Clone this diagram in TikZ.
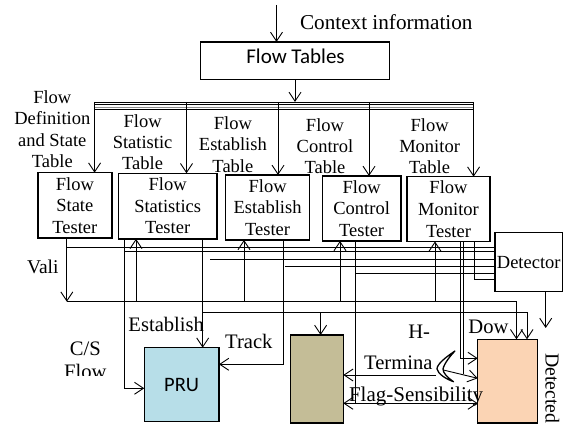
\documentclass[tikz,border=0pt]{standalone}
\usepackage{fontspec}
\setmainfont{Liberation Serif}
\newfontfamily\calfont{Carlito}
\usetikzlibrary{arrows.meta}
\definecolor{prublue}{HTML}{B7DEE8}
\definecolor{tanfill}{HTML}{C4BD97}
\definecolor{peach}{HTML}{FBD4B4}
\tikzset{
  box/.style={draw, line width=1.5pt, fill=white, inner sep=0pt, outer sep=0pt,
    align=center, font=\fontsize{18.5}{21.6}\selectfont},
  wire/.style={line width=0.9pt},
  arr/.style={wire, -{Straight Barb[length=9pt,width=12pt]}},
  biarr/.style={wire, {Straight Barb[length=9pt,width=12pt]}-{Straight Barb[length=9pt,width=12pt]}},
  lbl/.style={inner sep=0pt, align=center, anchor=north, font=\fontsize{18.5}{21.2}\selectfont},
  big/.style={inner sep=0pt, font=\fontsize{20.6}{23.4}\selectfont},
}
\begin{document}
\begin{tikzpicture}[x=1pt,y=-1pt]
\useasboundingbox (0,0) rectangle (566,427);

% generator and its input
\node[box, minimum width=188.8pt, minimum height=37.3pt] (tables) at (295.1,60.65) {};
\node[anchor=base, inner sep=0pt, font=\calfont\fontsize{21}{25}\selectfont] (tablestxt) at (295.5,64) {Flow Tables};
\node[anchor=base, inner sep=0pt, font=\fontsize{21.2}{25}\selectfont] (ctx) at (386.3,30) {Context information};
\draw[arr] (276.5,5) -- (276.5,0 |- tables.north);
\draw[arr] (295,0 |- tables.south) -- (295,102);

% table bus
\draw[line width=0.6pt] (95,102) -- (473.6,102);
\draw[line width=1.8pt] (95,104.6) -- (473.6,104.6);
\draw[line width=0.8pt, black!45] (95,107.2) -- (473.6,107.2);
\draw[line width=1pt] (95,109.3) -- (473.6,109.3);

% table labels
\node[lbl] (tdef) at (52.3,90.7) {Flow\\Definition\\and State\\Table};
\node[lbl] (tstat) at (142.6,114) {Flow\\Statistic\\Table};
\node[lbl] (test) at (232.9,116.7) {Flow\\Establish\\Table};
\node[lbl] (tctl) at (325,118.3) {Flow\\Control\\Table};
\node[lbl] (tmon) at (429.6,118.3) {Flow\\Monitor\\Table};

% testers
\node[box, minimum width=73.9pt, minimum height=65.5pt] (state) at (74.85,205.45) {Flow\\State\\Tester};
\node[box, minimum width=98.6pt, minimum height=65.5pt] (stats) at (167.7,206.05) {Flow\\Statistics\\Tester};
\node[box, minimum width=83.8pt, minimum height=65pt] (estab) at (267.6,207.5) {Flow\\Establish\\Tester};
\node[box, minimum width=78.7pt, minimum height=65pt] (ctrl) at (361.65,208.5) {Flow\\Control\\Tester};
\node[box, minimum width=83pt, minimum height=64.8pt] (mon) at (448.5,209.1) {Flow\\Monitor\\Tester};
\node[box, minimum width=67.5pt, minimum height=59.2pt] (det) at (528.75,262.1) {Detector};

% processing units
\node[box, fill=prublue, minimum width=74.7pt, minimum height=74pt,
      font=\calfont\fontsize{20.5}{24}\selectfont] (pru) at (181.65,384.7) {PRU};
\node[box, fill=tanfill, minimum width=52.6pt, minimum height=88pt] (tan) at (317,379) {};
\node[box, fill=peach, minimum width=60pt, minimum height=83.7pt] (sink) at (507.7,381.15) {};

% drops from the bus
\draw[arr] (94.6,102) -- (94.6,0 |- state.north);
\draw[arr] (186.5,102) -- (186.5,0 |- stats.north);
\draw[arr] (278,102) -- (278,0 |- estab.north);
\draw[arr] (369,102) -- (369,0 |- ctrl.north);
\draw[arr] (473.6,102) -- (473.6,0 |- mon.north);

% state tester and valid line
\draw[arr] (66.8,0 |- state.south) -- (66.8,301.7);
\draw[arr] (66.8,301.7) -- (516.5,301.7) -- (516.5,0 |- sink.north);
\draw[wire] (66.8,247) -- (66.8,247 -| det.west);

% statistics tester
\draw[arr] (124.8,0 |- stats.south) -- (124.8,388.3) -- (124.8,388.3 -| pru.west);
\draw[wire] (124.8,251.7) -- (124.8,251.7 -| det.west);
\draw[arr] (202.7,0 |- stats.south) -- (202.7,0 |- pru.north);
\draw[arr] (202.7,312.7) -- (527,312.7) -- (527,0 |- sink.north);
\draw[arr] (320.6,312.7) -- (320.6,0 |- tan.north);
\draw[wire] (210,259) -- (210,259 -| det.west);

% feedback arrows into testers
\draw[arr] (136,301.7) -- (136,0 |- stats.south);
\draw[arr] (244,301.7) -- (244,0 |- estab.south);
\draw[arr] (340,301.7) -- (340,0 |- ctrl.south);
\draw[arr] (435,301.7) -- (435,0 |- mon.south);

% establish tester: track
\draw[arr] (283.3,0 |- estab.south) -- (283.3,364.3) -- (283.3,364.3 -| pru.east);
\draw[wire] (285,266.5) -- (285,266.5 -| det.west);

% control tester: flag sensibility
\draw[wire] (355,0 |- ctrl.south) -- (355,403.3);
\draw[wire] (355,273.5) -- (355,273.5 -| det.west);
\draw[biarr] (tan.east |- 0,403.3) -- (sink.west |- 0,403.3);

% monitor tester
\draw[arr] (460,0 |- mon.south) -- (460,358.3) -- (sink.west |- 0,358.3);
\draw[wire] (463,0 |- mon.south) -- (463,374.5);
\draw[arr] (443.3,370) -- (sink.west |- 0,378.3);
\draw[wire] (474,0 |- mon.south) -- (474,279.2) -- (det.west |- 0,279.2);

% terminate line and crossing mark
\draw[arr] (436,375) -- (tan.east |- 0,375);
\draw[line width=1.3pt, line join=round] (455,351) .. controls (446,357) and (437,364) .. (437,369)
  .. controls (438,374) and (446,379) .. (453.5,381.7)
  .. controls (447,377) and (443,373) .. (443,369)
  .. controls (444,364) and (450,356) .. (455,351) -- cycle;

% detector output
\draw[arr] (545.7,0 |- det.south) -- (545.7,328);

% free labels
\node[inner sep=0pt, anchor=base, font=\fontsize{19.5}{22}\selectfont] (valid) at (42.8,273.3) {Vali};
\begin{scope}
  \clip (40,330) rectangle (135,376);
  \node[big, anchor=north, align=center] (csflow) at (85.3,341.7) {C/S\\Flow};
\end{scope}
\node[big, anchor=base] (lest) at (166.2,331.7) {Establish};
\node[big, anchor=base] (ltrack) at (248.8,348.3) {Track};
\node[big, anchor=base] (lh) at (419.2,338.3) {H-};
\node[big, anchor=base] (ldow) at (488.5,334) {Dow};
\node[big, anchor=base] (lterm) at (398.3,370) {Termina};
\node[big, anchor=base, font=\fontsize{21}{24}\selectfont] (lflag) at (416.1,402) {Flag-Sensibility};
\node[inner sep=0pt, rotate=-90, anchor=base west, font=\fontsize{19.8}{23}\selectfont] (ldet) at (545.5,353) {Detected};
\end{tikzpicture}
\end{document}
